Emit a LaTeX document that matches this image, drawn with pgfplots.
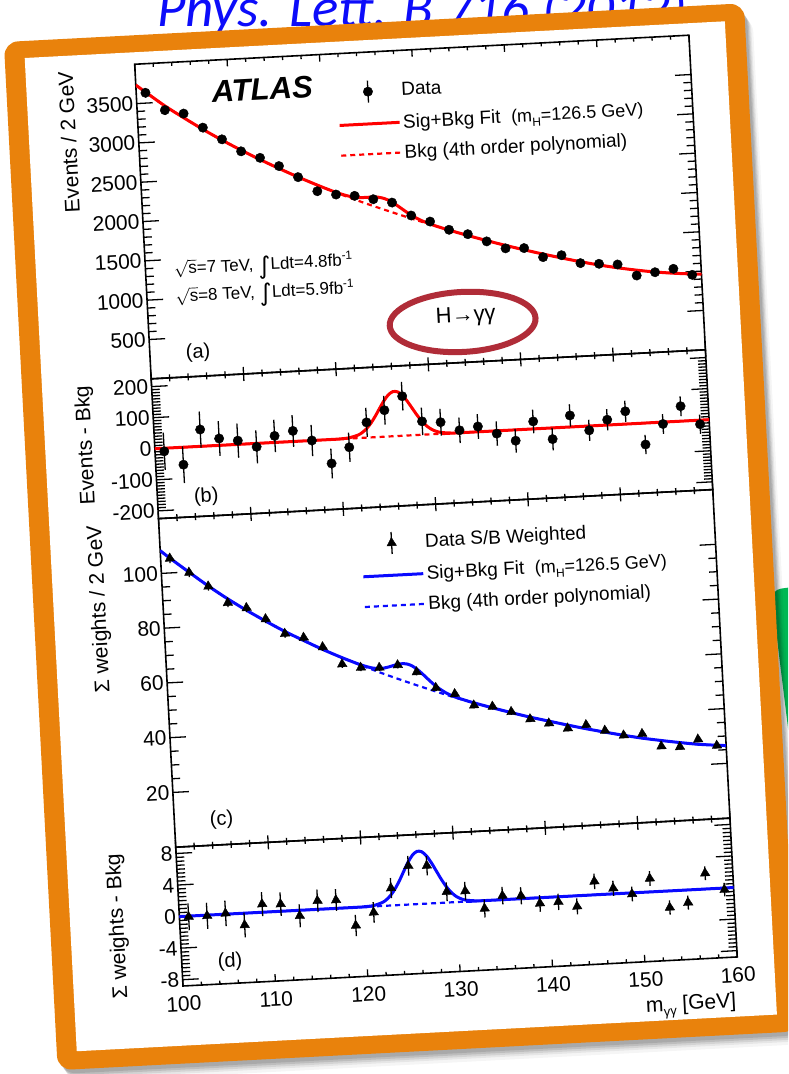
\documentclass[border=0pt]{standalone}
\usepackage{pgfplots}
\usepackage{pgfplotstable}
\pgfplotsset{compat=1.18}
\usepackage{fontspec}
\setmainfont{Liberation Sans}
\newfontfamily\linkfont{Carlito}
\newfontfamily\symfont{DejaVu Sans}

\definecolor{frameorange}{RGB}{233,130,12}
\definecolor{ringred}{RGB}{176,44,56}
\definecolor{slidegreen}{RGB}{0,184,84}
\definecolor{linkblue}{RGB}{12,12,250}
\definecolor{fitblue}{RGB}{10,10,255}

\newcommand{\lbl}{\fontsize{21}{25}\selectfont}
\newcommand{\leg}{\fontsize{19}{22}\selectfont}
\newcommand{\legsmall}{\fontsize{18}{20}\selectfont}
\newcommand{\txt}{\fontsize{17}{20}\selectfont}
\newcommand{\intsign}{{\symfont\fontsize{24}{24}\selectfont\raisebox{-4pt}{∫}}}
\newcommand{\mH}{(m\raisebox{-5pt}{\fontsize{12}{12}\selectfont H}=126.5 GeV)}

% (a) events per bin, (b) events minus background
\pgfplotstableread{
x   y     b    e
101 3631  -10  60
103 3398  -56  59
105 3342   54  58
107 3151   22  56
109 2990   12  55
111 2825  -11  53
113 2730   21  52
115 2613   34  51
117 2460    0  50
119 2269  -77  48
121 2214  -28  47
123 2185   49  47
125 2130   85  46
127 2075  127  46
129 1898   43  44
131 1809   37  43
133 1692    8  41
135 1624   17  40
137 1520   -9  39
139 1419  -35  38
141 1410   24  38
143 1283  -36  36
145 1295   37  36
147 1182  -14  34
149 1161   17  34
151 1140   41  34
153  987  -69  31
155 1017   -6  32
157 1048   48  32
159  959  -13  31
}\dataAB

% (c) S/B weighted sum, (d) weighted sum minus background
\pgfplotstableread{
x   y      d      e
101 105.3  -0.09  1.70
103  99.8  -0.09  1.66
105  94.4   0.10  1.61
107  88.0  -1.50  1.57
109  85.8   1.03  1.53
111  81.4   0.91  1.49
113  75.7  -0.70  1.45
115  73.9   1.08  1.42
117  70.1   1.05  1.38
119  63.5  -2.30  1.35
121  61.9  -0.76  1.31
123  61.5   2.20  1.28
125  62.1   4.90  1.25
127  59.2   4.80  1.22
129  53.1   1.37  1.19
131  50.5   1.33  1.16
133  46.0  -1.00  1.14
135  45.2   0.50  1.11
137  42.9   0.37  1.08
139  39.9  -0.72  1.06
141  38.0  -0.65  1.03
143  35.8  -1.35  1.01
145  36.7   1.70  0.99
147  34.3   0.70  0.96
149  32.2  -0.15  0.94
151  32.4   1.70  0.92
153  27.5  -2.10  0.90
155  26.9  -1.60  0.89
157  29.3   2.00  0.87
159  26.7  -0.20  0.86
}\dataCD

\pgfplotsset{
  hep/.style={
    scale only axis, width=555pt, anchor=south west,
    xmin=100, xmax=160,
    xtick={100,110,...,160}, minor x tick num=4,
    axis line style={line width=1.6pt},
    tick style={line width=1.3pt, black},
    xtick style={/pgfplots/major tick length=7pt,/pgfplots/minor tick length=3.5pt},
    ytick style={/pgfplots/major tick length=16pt,/pgfplots/minor tick length=8pt},
    tick align=inside,
    tick label style={font=\lbl},
    /pgf/number format/assume math mode=true,
    /pgf/number format/1000 sep={},
    every axis y label/.style={at={(axis description cs:-0.12,1)}, rotate=90, anchor=east, font=\lbl},
    every axis x label/.style={at={(axis description cs:1,-0.335)}, anchor=east, font=\lbl},
    legend cell align=left,
    legend image code/.code={\draw[#1] (0pt,0pt) -- (60pt,0pt);},
    legend style={anchor=north west, draw=none, fill=none, font=\leg,
      row sep=11pt, inner sep=0pt,
      /tikz/every even column/.append style={column sep=18pt}},
  },
  datapts/.style={only marks, black, mark=*, mark size=4.7pt,
    error bars/.cd, y dir=both, y explicit, error mark=none,
    error bar style={line width=1.3pt, black}},
  wpts/.style={only marks, black, mark=triangle*, mark size=5.5pt,
    error bars/.cd, y dir=both, y explicit, error mark=none,
    error bar style={line width=1.3pt, black}},
}

\begin{document}
\begin{tikzpicture}[x=1pt,y=1pt]
\useasboundingbox (0,0) rectangle (788,1074);
\clip (0,0) rectangle (788,1074);
\fill[white] (0,0) rectangle (788,1074);

% reference line at the top
\node[anchor=base west, inner sep=0pt, text=linkblue,
  font=\linkfont\itshape\fontsize{55}{60}\selectfont] at (157,1047) {Phys. Lett. B 716 (2012)};
\fill[linkblue] (157,1034.5) rectangle (684,1037);

% green box behind the frame
\fill[slidegreen, rounded corners=10pt] (790,330) -- (771,484) -- (800,488) -- (800,330) -- cycle;

\begin{scope}[shift={(183,88)}, rotate=3, transform shape]
  % frame with its shadow
  \foreach \o/\a in {13/0.04, 10/0.06, 8/0.08, 6/0.1, 4/0.1} {
    \fill[black, opacity=\a, rounded corners=16pt, xshift=0.6*\o pt, yshift=-\o pt]
      (-129.5,-77.5) rectangle (611.6,952);
  }
  \fill[frameorange, rounded corners=14pt] (-129.5,-77.5) rectangle (611.6,952);
  \fill[white] (-109.5,-59.6) rectangle (591.6,935);

  % (a) diphoton mass spectrum
  \begin{axis}[hep, at={(0pt,608pt)}, height=315pt,
    ymin=0, ymax=4000, ytick={500,1000,...,3500}, minor y tick num=4,
    xticklabels={},
    ylabel={Events / 2 GeV},
    ylabel style={at={(axis description cs:-0.126,1)}},
    legend style={at={(0.36,0.912)}}]
    \addlegendimage{black, legend image code/.code={
      \draw[black,line width=1.3pt] (30pt,-11pt) -- (30pt,11pt);
      \fill[black] (30pt,0pt) circle (4.7pt);}}
    \addlegendentry{Data}
    \addlegendimage{red, line width=3pt}
    \addlegendentry{Sig+Bkg Fit \ {\legsmall\mH}}
    \addlegendimage{red, line width=2.2pt, dash pattern=on 5pt off 4pt}
    \addlegendentry{Bkg (4th order polynomial)}

    \addplot[forget plot, red, line width=2.2pt, dash pattern=on 5pt off 4pt, smooth] coordinates {
      (100,3735) (101,3641) (103,3454) (105,3288) (107,3129) (109,2980) (111,2840)
      (113,2708) (115,2582) (117,2462) (119,2348) (121,2240) (123,2138) (125,2042)
      (127,1950) (129,1860) (131,1773) (133,1688) (135,1607) (137,1530) (139,1457)
      (141,1388) (143,1322) (145,1260) (147,1200) (149,1146) (151,1098) (153,1056)
      (155,1020) (157,992) (159,970) (160,962)};
    \addplot[forget plot, red, line width=3pt, smooth] coordinates {
      (100,3735) (101,3641) (103,3454) (105,3288) (107,3129) (109,2980) (111,2840)
      (113,2708) (115,2582) (117,2462) (119,2348) (120,2294) (121,2242) (122,2199)
      (122.5,2181) (123,2168) (123.5,2161) (124,2158) (124.5,2158) (125,2157)
      (125.5,2153) (126,2139) (126.5,2115) (127,2081) (127.5,2038) (128,1992)
      (128.5,1946) (129,1903) (129.5,1865) (130,1832) (130.5,1803) (131,1777)
      (132,1731) (133,1688) (135,1607) (137,1530) (139,1457) (141,1388) (143,1322)
      (145,1260) (147,1200) (149,1146) (151,1098) (153,1056) (155,1020) (157,992)
      (159,970) (160,962)};
    \addplot[forget plot, datapts] table[x=x, y=y, y error=e] {\dataAB};

    \node[font=\fontsize{31}{34}\selectfont\bfseries\itshape] at (rel axis cs:0.227,0.900) {ATLAS};
    \node[anchor=west, font=\txt] at (rel axis cs:0.045,0.335)
      {$\sqrt{\hbox{s}}$=7 TeV, \intsign Ldt=4.8fb\textsuperscript{-1}};
    \node[anchor=west, font=\txt] at (rel axis cs:0.045,0.247)
      {$\sqrt{\hbox{s}}$=8 TeV, \intsign Ldt=5.9fb\textsuperscript{-1}};
    \node[font=\fontsize{20}{22}\selectfont] at (rel axis cs:0.087,0.075) {(a)};
    \node[font=\fontsize{22}{24}\selectfont] at (rel axis cs:0.572,0.146) {H→γγ};
  \end{axis}

  % (b) background-subtracted events
  \begin{axis}[hep, at={(0pt,468pt)}, height=140pt,
    ymin=-225, ymax=225, ytick={-200,-100,...,200}, minor y tick num=9,
    xticklabels={},
    ylabel={Events - Bkg},
    ylabel style={at={(axis description cs:-0.123,1)}}]
    \addplot[red, line width=2.2pt, dash pattern=on 5pt off 4pt] coordinates {(100,0) (160,0)};
    \addplot[red, line width=3pt, smooth] coordinates {
      (100,0) (119,0) (120,0.4) (121,2.2) (122,9.5) (122.5,17.4) (123,29.7)
      (123.5,46.8) (124,68.2) (124.5,92.2) (125,115.3) (125.5,133.5) (126,143.1)
      (126.5,142.0) (127,130.5) (127.5,110.9) (128,87.3) (128.5,63.6) (129,42.9)
      (129.5,26.8) (130,15.5) (130.5,8.3) (131,4.1) (132,0.8) (133,0) (160,0)};
    \addplot[datapts] table[x=x, y=b, y error=e] {\dataAB};
    \node[font=\fontsize{20}{22}\selectfont] at (rel axis cs:0.088,0.139) {(b)};
  \end{axis}

  % (c) S/B weighted spectrum
  \begin{axis}[hep, at={(0pt,139pt)}, height=329pt,
    ymin=0, ymax=120, ytick={20,40,...,100}, minor y tick num=3,
    xticklabels={},
    ylabel={Σ weights / 2 GeV},
    ylabel style={at={(axis description cs:-0.114,1)}},
    legend style={at={(0.36,0.925)}}]
    \addlegendimage{black, legend image code/.code={
      \draw[black,line width=1.3pt] (30pt,-11pt) -- (30pt,11pt);
      \fill[black] (30pt,5.5pt) -- (34.76pt,-2.75pt) -- (25.24pt,-2.75pt) -- cycle;}}
    \addlegendentry{Data S/B Weighted}
    \addlegendimage{fitblue, line width=3pt}
    \addlegendentry{Sig+Bkg Fit \ {\legsmall\mH}}
    \addlegendimage{fitblue, line width=2.2pt, dash pattern=on 5pt off 4pt}
    \addlegendentry{Bkg (4th order polynomial)}

    \addplot[forget plot, fitblue, line width=2.2pt, dash pattern=on 5pt off 4pt, smooth] coordinates {
      (100,108.3) (101,105.4) (103,99.9) (105,94.5) (107,89.5) (109,84.9) (111,80.6)
      (113,76.5) (115,72.8) (117,69.2) (119,65.9) (121,62.8) (123,59.8) (125,57.0)
      (127,54.3) (129,51.7) (131,49.2) (133,46.9) (135,44.7) (137,42.6) (139,40.6)
      (141,38.8) (143,37.0) (145,35.3) (147,33.7) (149,32.2) (151,30.8) (153,29.6)
      (155,28.5) (157,27.5) (159,26.8) (160,26.5)};
    \addplot[forget plot, fitblue, line width=3pt, smooth] coordinates {
      (100,108.3) (101,105.4) (103,99.9) (105,94.5) (107,89.5) (109,84.9) (111,80.6)
      (113,76.5) (115,72.8) (117,69.2) (119,65.9) (120,64.37) (121,62.9) (122,61.74)
      (122.5,61.36) (123,61.18) (123.5,61.28) (124,61.57) (124.5,61.99) (125,62.37)
      (125.5,62.51) (126,62.31) (126.5,61.61) (127,60.37) (127.5,58.81) (128,57.06)
      (128.5,55.31) (129,53.7) (129.5,52.35) (130,51.17) (130.5,50.19) (131,49.39)
      (132,48.09) (133,46.9) (135,44.7) (137,42.6) (139,40.6) (141,38.8) (143,37.0)
      (145,35.3) (147,33.7) (149,32.2) (151,30.8) (153,29.6) (155,28.5) (157,27.5)
      (159,26.8) (160,26.5)};
    \addplot[forget plot, wpts] table[x=x, y=y, y error=e] {\dataCD};
    \node[font=\fontsize{20}{22}\selectfont] at (rel axis cs:0.085,0.076) {(c)};
  \end{axis}

  % (d) weighted, background-subtracted
  \begin{axis}[hep, at={(0pt,0pt)}, height=139pt,
    ymin=-8.8, ymax=8.8, ytick={-8,-4,0,4,8}, minor y tick num=7,
    xticklabel style={yshift=-7pt},
    xlabel={m\raisebox{-5pt}{\fontsize{13}{13}\selectfont γγ} [GeV]},
    ylabel={Σ weights - Bkg},
    ylabel style={at={(axis description cs:-0.111,1)}}]
    \addplot[fitblue, line width=2.2pt, dash pattern=on 5pt off 4pt] coordinates {(100,0) (160,0)};
    \addplot[fitblue, line width=3pt, smooth] coordinates {
      (100,0) (119,0) (120,0.02) (121,0.10) (122,0.44) (122.5,0.81) (123,1.38)
      (123.5,2.18) (124,3.17) (124.5,4.29) (125,5.37) (125.5,6.21) (126,6.66)
      (126.5,6.61) (127,6.07) (127.5,5.16) (128,4.06) (128.5,2.96) (129,2.00)
      (129.5,1.25) (130,0.72) (130.5,0.39) (131,0.19) (132,0.04) (133,0) (160,0)};
    \addplot[wpts] table[x=x, y=d, y error=e] {\dataCD};
    \node[font=\fontsize{20}{22}\selectfont] at (rel axis cs:0.087,0.155) {(d)};
  \end{axis}

  % highlight ring around the decay channel
  \draw[ringred, line width=6pt] (314,648.5) ellipse [x radius=73, y radius=30];
\end{scope}
\end{tikzpicture}
\end{document}
